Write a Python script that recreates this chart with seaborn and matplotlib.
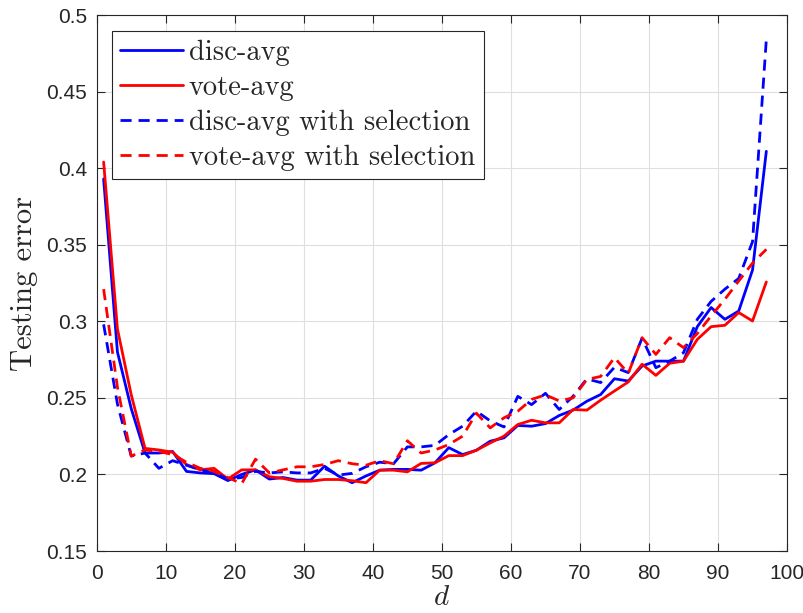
import matplotlib
matplotlib.use("Agg")
import matplotlib.pyplot as plt
import seaborn as sns
import pandas as pd
import numpy as np

# subspace dimension d (odd values)
d_values = list(range(1, 98, 2))

disc_avg = [0.393, 0.280, 0.243, 0.214, 0.214, 0.215, 0.202, 0.201, 0.2005, 0.196, 0.200, 0.203, 0.197,
            0.198, 0.1963, 0.1963, 0.2054, 0.199, 0.1946, 0.199, 0.2028, 0.2033, 0.2033, 0.2028, 0.2076, 0.2175,
            0.213, 0.2158, 0.2217, 0.2239, 0.232, 0.2315, 0.2332, 0.2385, 0.242, 0.2478, 0.2522, 0.2625,
            0.261, 0.2708, 0.274, 0.274, 0.274, 0.2965, 0.309, 0.3013, 0.3067, 0.3335, 0.411]
vote_avg = [0.404, 0.295, 0.252, 0.217, 0.216, 0.2145, 0.2065, 0.203, 0.204, 0.197, 0.203, 0.203, 0.1985,
            0.1974, 0.1956, 0.1956, 0.1967, 0.1967, 0.1959, 0.1946, 0.2028, 0.2028, 0.2017, 0.2072, 0.2076, 0.2123,
            0.2123, 0.2158, 0.2206, 0.225, 0.2326, 0.2354, 0.2337, 0.2337, 0.2424, 0.242, 0.2485, 0.2545,
            0.2604, 0.272, 0.2647, 0.2726, 0.274, 0.2882, 0.2965, 0.2974, 0.3057, 0.3002, 0.3257]
disc_avg_sel = [0.298, 0.246, 0.212, 0.214, 0.204, 0.209, 0.206, 0.203, 0.201, 0.197, 0.198, 0.202, 0.201,
                0.2017, 0.201, 0.201, 0.204, 0.1996, 0.2007, 0.205, 0.208, 0.207, 0.218, 0.218, 0.219, 0.226,
                0.2315, 0.2413, 0.235, 0.231, 0.251, 0.2456, 0.253, 0.2424, 0.251, 0.2624, 0.260, 0.270,
                0.2665, 0.289, 0.2697, 0.274, 0.2795, 0.3013, 0.313, 0.321, 0.328, 0.352, 0.484]
vote_avg_sel = [0.321, 0.257, 0.212, 0.216, 0.215, 0.213, 0.208, 0.204, 0.202, 0.198, 0.194, 0.210, 0.201,
                0.203, 0.205, 0.205, 0.2065, 0.209, 0.207, 0.206, 0.209, 0.207, 0.222, 0.214, 0.216, 0.2195,
                0.225, 0.240, 0.2304, 0.237, 0.2413, 0.249, 0.252, 0.248, 0.250, 0.262, 0.264, 0.2763,
                0.266, 0.2893, 0.2784, 0.2893, 0.2828, 0.292, 0.3035, 0.3144, 0.3263, 0.338, 0.347]

series_names = ["disc-avg", "vote-avg", "disc-avg with selection", "vote-avg with selection"]
series_colors = ["#0000ff", "#ff0000", "#0000ff", "#ff0000"]
series_dashed = [False, False, True, True]

df = pd.DataFrame({
    "d": d_values * 4,
    "err": disc_avg + vote_avg + disc_avg_sel + vote_avg_sel,
    "method": np.repeat(series_names, len(d_values)),
})

sns.set_style("whitegrid")
plt.rcParams["mathtext.fontset"] = "cm"

fig = plt.figure(figsize=(8.04, 6.13), dpi=100)
ax = fig.add_axes([0.1203, 0.1011, 0.8586, 0.8744])

for name, col, dashed in zip(series_names, series_colors, series_dashed):
    sub = df[df["method"] == name]
    ls = (0, (4, 2.5)) if dashed else "-"
    sns.lineplot(data=sub, x="d", y="err", ax=ax, color=col, linestyle=ls,
                 linewidth=2.0, label=name)

ax.set_xlim(0, 100)
ax.set_ylim(0.15, 0.5)
ax.set_xticks(range(0, 101, 10))
ax.set_yticks([0.15, 0.2, 0.25, 0.3, 0.35, 0.4, 0.45, 0.5])
ax.set_yticklabels(["0.15", "0.2", "0.25", "0.3", "0.35", "0.4", "0.45", "0.5"])

ax.grid(True, color="#dfdfdf", linewidth=0.8)
for s in ax.spines.values():
    s.set_color("#262626")
    s.set_linewidth(0.8)
ax.tick_params(direction="in", length=6, width=0.8, colors="#262626",
               top=True, right=True, left=True, bottom=True, labelsize=15)
ax.tick_params(axis="x", pad=9)
ax.tick_params(axis="y", pad=7)
for lab in ax.get_xticklabels() + ax.get_yticklabels():
    lab.set_fontfamily("Liberation Sans")

ax.set_xlabel("$d$", fontsize=21, labelpad=0)
ax.set_ylabel("Testing error", fontsize=22, fontfamily="cmr10", labelpad=6)

leg = ax.legend(loc="upper left", bbox_to_anchor=(0.022, 0.97), prop={"family": "cmr10", "size": 20.5},
                handlelength=2.2, handletextpad=0.2, labelspacing=0.3, borderpad=0.3,
                frameon=True, fancybox=False, framealpha=1, edgecolor="#262626", borderaxespad=0)
leg.get_frame().set_linewidth(0.8)

fig.savefig("out.png", dpi=100)
